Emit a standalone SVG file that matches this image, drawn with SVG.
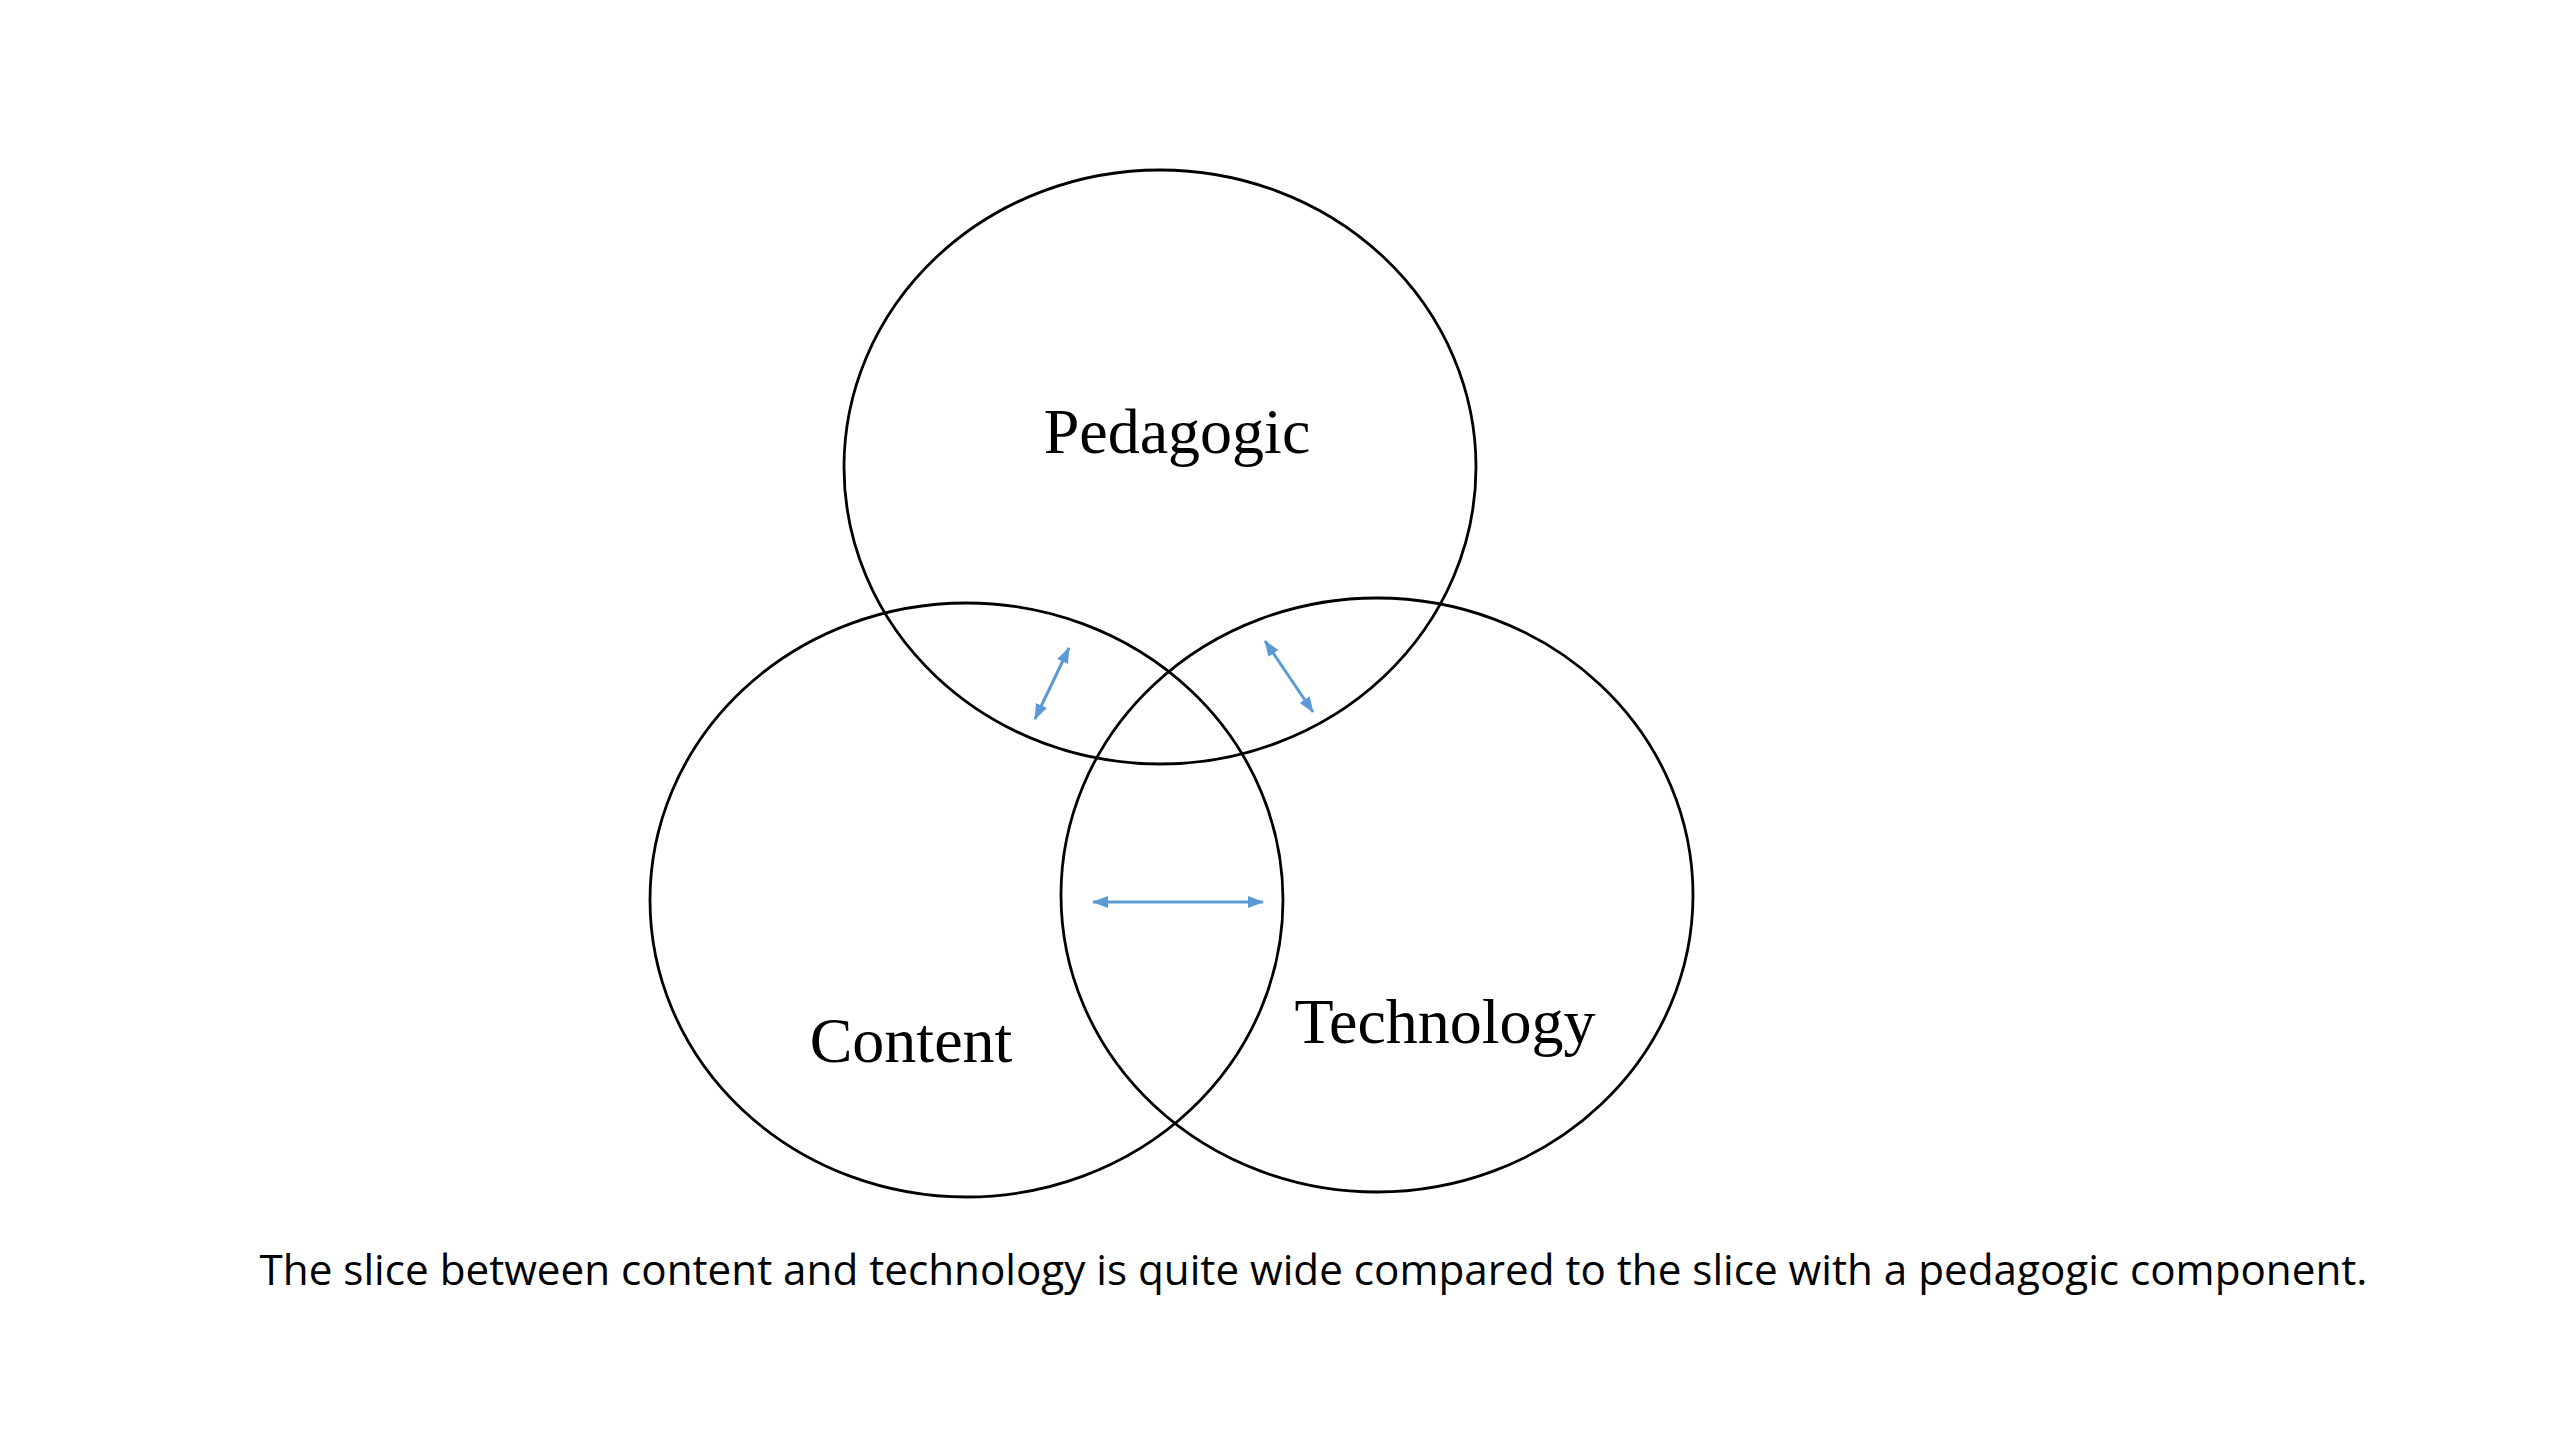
<svg xmlns="http://www.w3.org/2000/svg" width="2560" height="1440" viewBox="0 0 2560 1440">
<style>
.circ{fill:none;stroke:#000;stroke-width:2.8}
.lbl{font-family:"Liberation Serif","Times New Roman",serif;font-size:64px;fill:#000}
.arr{stroke:#5B9BD5;stroke-width:3;fill:none;marker-start:url(#ah);marker-end:url(#ah)}
.cap{font-family:"Open Sans","Noto Sans",sans-serif;font-size:42.2px;fill:#000}
</style>
<defs>
<marker id="ah" markerUnits="userSpaceOnUse" markerWidth="16" markerHeight="12" viewBox="0 0 16 12" refX="15" refY="6" orient="auto-start-reverse">
<path d="M0,0 L16,6 L0,12 Z" fill="#5B9BD5"/>
</marker>
</defs>
<rect width="2560" height="1440" fill="#fff"/>
<g id="pedagogic">
<ellipse class="circ" cx="1160" cy="467" rx="316" ry="297"/>
<text class="lbl" x="1177" y="453" text-anchor="middle">Pedagogic</text>
</g>
<g id="content">
<ellipse class="circ" cx="966.5" cy="900" rx="316.5" ry="297"/>
<text class="lbl" x="911" y="1062" text-anchor="middle">Content</text>
</g>
<g id="technology">
<ellipse class="circ" cx="1377" cy="895" rx="316" ry="297"/>
<text class="lbl" x="1445" y="1043" text-anchor="middle">Technology</text>
</g>
<g id="connectors">
<line class="arr" x1="1035" y1="719" x2="1069" y2="648"/>
<line class="arr" x1="1265" y1="641" x2="1313" y2="712"/>
<line class="arr" x1="1093" y1="902" x2="1263" y2="902"/>
</g>
<text id="caption" class="cap" x="1313.5" y="1285" text-anchor="middle">The slice between content and technology is quite wide compared to the slice with a pedagogic component.</text>
</svg>
